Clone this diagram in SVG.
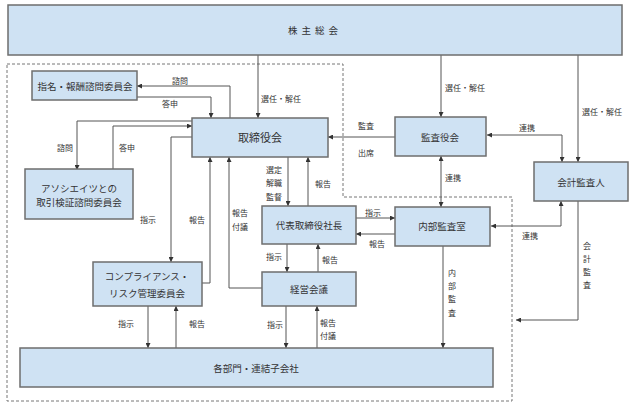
<svg xmlns="http://www.w3.org/2000/svg" width="631" height="407" viewBox="0 0 631 407">
<defs>
<marker id="ah" viewBox="0 0 10 10" refX="10" refY="5" markerWidth="5" markerHeight="5" orient="auto-start-reverse" markerUnits="userSpaceOnUse">
<path d="M0,0 L10,5 L0,10 Z" fill="#333"/>
</marker>
<style>
.box{fill:#cfe2f3;stroke:#6e6e6e;stroke-width:1.5}
.t{font-family:"Noto Sans CJK JP","Noto Sans",sans-serif;font-size:9.5px;fill:#333;text-anchor:middle;dominant-baseline:central}
.l{font-family:"Noto Sans CJK JP","Noto Sans",sans-serif;font-size:8px;fill:#333;text-anchor:middle;dominant-baseline:central}
.c{fill:none;stroke:#555;stroke-width:1}
.ar{marker-end:url(#ah)}
.ab{marker-start:url(#ah);marker-end:url(#ah)}
.dash{fill:none;stroke:#777;stroke-width:1;stroke-dasharray:3,2}
</style>
</defs>
<rect width="631" height="407" fill="#fff"/>
<path class="dash" d="M7,64 H343 V197 H512 V401 H7 Z"/>
<g id="connectors">
<path class="c ar" d="M258,55 V118"/>
<path class="c ar" d="M441,55 V117"/>
<path class="c ar" d="M578,55 V162"/>
<path class="c ar" d="M230,118 V86 H137"/>
<path class="c ar" d="M137,97 H211 V118"/>
<path class="c ar" d="M192,121 H77 V170"/>
<path class="c ar" d="M113,170 V126 H192"/>
<path class="c ar" d="M192,137 H171 V262"/>
<path class="c ar" d="M202,283 H210 V157"/>
<path class="c ar" d="M262,288 H229 V157"/>
<path class="c ar" d="M288,157 V206"/>
<path class="c ar" d="M308,206 V157"/>
<path class="c ar" d="M395,137 H328"/>
<path class="c ab" d="M487,135 H562 V162"/>
<path class="c ab" d="M441,156 V207"/>
<path class="c ar" d="M356,218 H395"/>
<path class="c ar" d="M395,234 H356"/>
<path class="c ab" d="M491,226 H561 V201"/>
<path class="c ar" d="M287,244 V272"/>
<path class="c ar" d="M318,272 V244"/>
<path class="c ar" d="M286,306 V348"/>
<path class="c ar" d="M317,348 V306"/>
<path class="c ar" d="M148,306 V348"/>
<path class="c ar" d="M176,348 V306"/>
<path class="c ar" d="M443,246 V348"/>
<path class="c ar" d="M578,201 V320 H516"/>
</g>
<g id="labels">
<text class="l" x="281" y="98">選任・解任</text>
<text class="l" x="465" y="87">選任・解任</text>
<text class="l" x="602" y="111">選任・解任</text>
<text class="l" x="180" y="80">諮問</text>
<text class="l" x="170" y="103">答申</text>
<text class="l" x="65" y="147">諮問</text>
<text class="l" x="127" y="147">答申</text>
<text class="l" x="148" y="219">指示</text>
<text class="l" x="197" y="219">報告</text>
<text class="l" x="240" y="212">報告</text>
<text class="l" x="240" y="226">付議</text>
<text class="l" x="274" y="169">選定</text>
<text class="l" x="274" y="182">解職</text>
<text class="l" x="274" y="196">監督</text>
<text class="l" x="323" y="183">報告</text>
<text class="l" x="366" y="125">監査</text>
<text class="l" x="366" y="152">出席</text>
<text class="l" x="527" y="127">連携</text>
<text class="l" x="453" y="177">連携</text>
<text class="l" x="373" y="212">指示</text>
<text class="l" x="377" y="243">報告</text>
<text class="l" x="530" y="235">連携</text>
<text class="l" x="274" y="256">指示</text>
<text class="l" x="330" y="259">報告</text>
<text class="l" x="275" y="324">指示</text>
<text class="l" x="328" y="322">報告</text>
<text class="l" x="328" y="335">付議</text>
<text class="l" x="126" y="323">指示</text>
<text class="l" x="197" y="323">報告</text>
<text class="l" x="587" y="245">会</text>
<text class="l" x="587" y="258">計</text>
<text class="l" x="587" y="271">監</text>
<text class="l" x="587" y="284">査</text>
<text class="l" x="452" y="272">内</text>
<text class="l" x="452" y="285">部</text>
<text class="l" x="452" y="298">監</text>
<text class="l" x="452" y="312">査</text>
</g>
<g id="shareholders"><rect class="box" x="8" y="5" width="614" height="50"/><text class="t" x="315" y="30" style="letter-spacing:4px">株主総会</text></g>
<g id="nomination"><rect class="box" x="32" y="71" width="105" height="29"/><text class="t" x="85" y="86">指名・報酬諮問委員会</text></g>
<g id="board"><rect class="box" x="192" y="118" width="136" height="39"/><text class="t" x="260" y="137" style="font-size:11px">取締役会</text></g>
<g id="auditboard"><rect class="box" x="395" y="117" width="91" height="39"/><text class="t" x="440" y="137">監査役会</text></g>
<g id="accountant"><rect class="box" x="534" y="162" width="94" height="39"/><text class="t" x="581" y="182">会計監査人</text></g>
<g id="associates"><rect class="box" x="25" y="169" width="108" height="50"/><text class="t" x="79" y="188">アソシエイツとの</text><text class="t" x="79" y="202">取引検証諮問委員会</text></g>
<g id="president"><rect class="box" x="262" y="206" width="94" height="38"/><text class="t" x="309" y="225">代表取締役社長</text></g>
<g id="internalaudit"><rect class="box" x="395" y="207" width="95" height="39"/><text class="t" x="442" y="226">内部監査室</text></g>
<g id="compliance"><rect class="box" x="93" y="262" width="109" height="44"/><text class="t" x="147" y="276">コンプライアンス・</text><text class="t" x="147" y="293">リスク管理委員会</text></g>
<g id="management"><rect class="box" x="262" y="272" width="94" height="34"/><text class="t" x="309" y="289">経営会議</text></g>
<g id="departments"><rect class="box" x="20" y="348" width="473" height="39"/><text class="t" x="256" y="368">各部門・連結子会社</text></g>
</svg>
